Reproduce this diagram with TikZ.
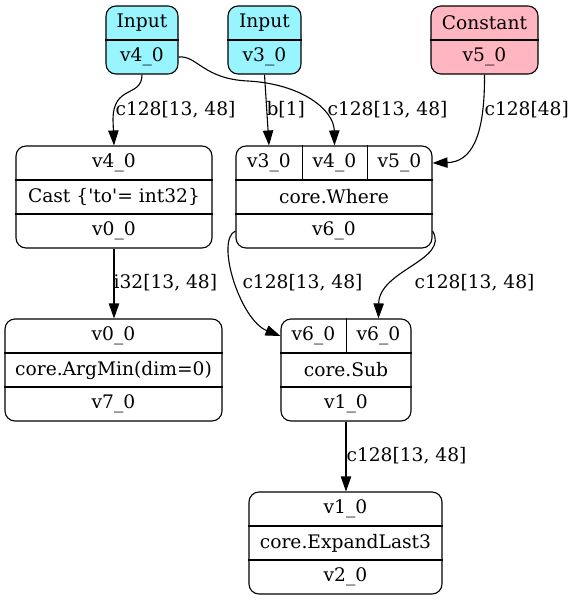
\documentclass[tikz,border=0pt]{standalone}
\usepackage{fontspec}
\setmainfont{DejaVu Serif}[Ligatures=TeXOff]
\usepackage{xcolor}
\usetikzlibrary{arrows.meta}
\definecolor{inputcol}{HTML}{98F5FF}
\definecolor{constcol}{HTML}{FFB6C1}

\begin{document}
\begin{tikzpicture}[x=0.5pt, y=-0.5pt, line width=0.55pt,
    every node/.style={font=\fontsize{9.33}{11}\selectfont},
    rec/.style={draw, rounded corners=5pt, inner sep=0pt},
    cell/.style={inner sep=0pt, minimum height=17pt},
    lbl/.style={anchor=west, inner sep=0pt},
    edge/.style={-{Triangle[length=7.5pt, width=5.2pt]}}]
  \useasboundingbox (0,0) rectangle (573,601);

  % inputs and constant
  \node[rec, fill=inputcol, minimum width=36pt, minimum height=34pt] (in4) at (142,40) {};
  \node[cell] (in4-t) at (142,23) {Input};
  \node[cell, minimum width=36pt] (in4-v) at (142,57) {v4\_0};
  \draw (in4.west) -- (in4.east);

  \node[rec, fill=inputcol, minimum width=36.5pt, minimum height=34pt] (in3) at (264.5,40) {};
  \node[cell] (in3-t) at (264.5,23) {Input};
  \node[cell] (in3-v) at (264.5,57) {v3\_0};
  \draw (in3.west) -- (in3.east);

  \node[rec, fill=constcol, minimum width=53.5pt, minimum height=34pt] (cst) at (484.5,40) {};
  \node[cell] (cst-t) at (484.5,23) {Constant};
  \node[cell] (cst-v) at (484.5,57) {v5\_0};
  \draw (cst.west) -- (cst.east);

  % Cast
  \node[rec, minimum width=98pt, minimum height=51pt] (cast) at (114,197) {};
  \node[cell] (cast-in) at (114,163) {v4\_0};
  \node[cell] (cast-op) at (114,197) {Cast \{'to'= int32\}};
  \node[cell] (cast-out) at (114,231) {v0\_0};
  \draw ([yshift=8.5pt]cast.west) -- ([yshift=8.5pt]cast.east);
  \draw ([yshift=-8.5pt]cast.west) -- ([yshift=-8.5pt]cast.east);

  % core.Where
  \node[rec, minimum width=98pt, minimum height=51pt] (where) at (334,197) {};
  \node[cell, minimum width=32.5pt] (wh-a) at (269,163) {v3\_0};
  \node[cell, minimum width=32.5pt] (wh-b) at (334.5,163) {v4\_0};
  \node[cell, minimum width=32.5pt] (wh-c) at (399.5,163) {v5\_0};
  \node[cell] (wh-op) at (334,197) {core.Where};
  \node[cell, minimum width=98pt] (wh-out) at (334,231) {v6\_0};
  \draw ([yshift=8.5pt]where.west) -- ([yshift=8.5pt]where.east);
  \draw ([yshift=-8.5pt]where.west) -- ([yshift=-8.5pt]where.east);
  \draw (wh-a.north east) -- (wh-a.south east);
  \draw (wh-b.north east) -- (wh-b.south east);

  % core.ArgMin
  \node[rec, minimum width=108.5pt, minimum height=51pt] (am) at (113.5,370) {};
  \node[cell] (am-in) at (113.5,336) {v0\_0};
  \node[cell] (am-op) at (113.5,370) {core.ArgMin(dim=0)};
  \node[cell] (am-out) at (113.5,404) {v7\_0};
  \draw ([yshift=8.5pt]am.west) -- ([yshift=8.5pt]am.east);
  \draw ([yshift=-8.5pt]am.west) -- ([yshift=-8.5pt]am.east);

  % core.Sub
  \node[rec, minimum width=65pt, minimum height=51pt] (sub) at (346,370) {};
  \node[cell, minimum width=32.5pt] (sub-a) at (313.5,336) {v6\_0};
  \node[cell, minimum width=32.5pt] (sub-b) at (378.5,336) {v6\_0};
  \node[cell] (sub-op) at (346,370) {core.Sub};
  \node[cell] (sub-out) at (346,404) {v1\_0};
  \draw ([yshift=8.5pt]sub.west) -- ([yshift=8.5pt]sub.east);
  \draw ([yshift=-8.5pt]sub.west) -- ([yshift=-8.5pt]sub.east);
  \draw (sub-a.north east) -- (sub-a.south east);

  % core.ExpandLast3
  \node[rec, minimum width=96.5pt, minimum height=51pt] (exp) at (345.5,543) {};
  \node[cell] (exp-in) at (345.5,509) {v1\_0};
  \node[cell] (exp-op) at (345.5,543) {core.ExpandLast3};
  \node[cell] (exp-out) at (345.5,577) {v2\_0};
  \draw ([yshift=8.5pt]exp.west) -- ([yshift=8.5pt]exp.east);
  \draw ([yshift=-8.5pt]exp.west) -- ([yshift=-8.5pt]exp.east);

  % edges
  \draw[edge] (in4.south) .. controls (142,98) and (113,84) .. (113,120) -- (cast.north);
  \draw[edge] (in4-v.east) .. controls (197,55) and (203,79) .. (248,81)
    .. controls (302,84) and (334,110) .. (wh-b.north);
  \draw[edge] (in3.south) -- (wh-a.north);
  \draw[edge] (cst.south) .. controls (485,140) and (470,162) .. (wh-c.east);
  \draw[edge] (wh-out.west) .. controls (215,240) and (240,320) .. (sub-a.west);
  \draw[edge] (wh-out.east) .. controls (450,260) and (379,270) .. (sub-b.north);
  \draw[edge] (cast.south) -- (cast.south |- am.north);
  \draw[edge] (sub.south) -- (sub.south |- exp.north);

  % edge labels
  \node[lbl] (l-in4) at (115,110) {c128[13, 48]};
  \node[lbl] (l-in4b) at (327,110) {c128[13, 48]};
  \node[lbl] (l-in3) at (266,110) {b[1]};
  \node[lbl] (l-cst) at (484,110) {c128[48]};
  \node[lbl] (l-wh1) at (242,283) {c128[13, 48]};
  \node[lbl] (l-wh2) at (414,283) {c128[13, 48]};
  \node[lbl] (l-cast) at (113,283) {i32[13, 48]};
  \node[lbl] (l-sub) at (346,456) {c128[13, 48]};
\end{tikzpicture}
\end{document}
